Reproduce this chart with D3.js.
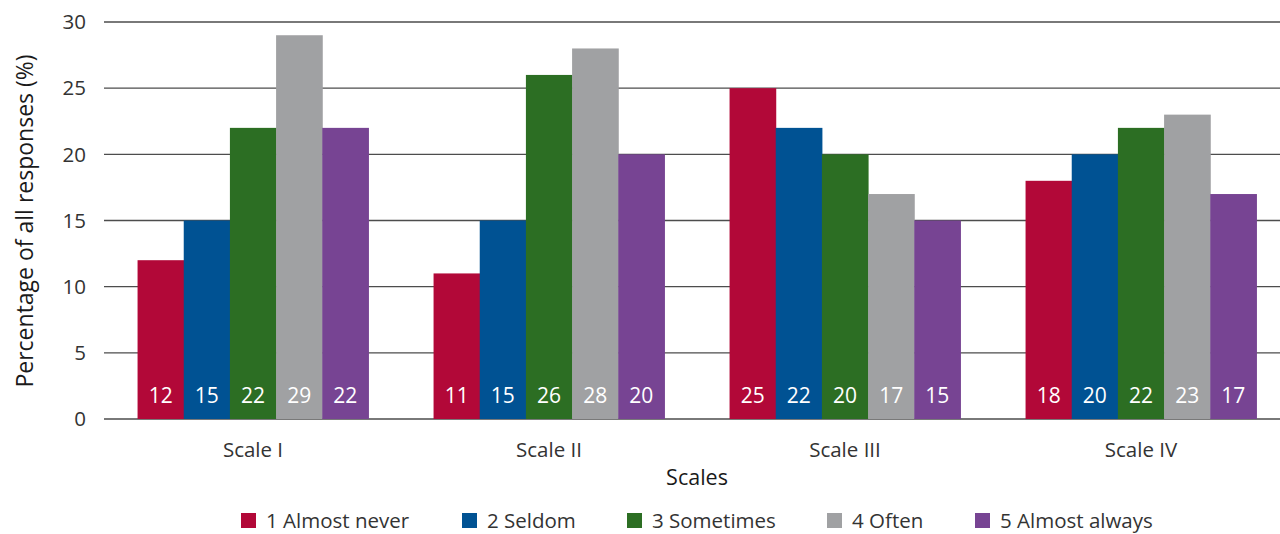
<!DOCTYPE html>
<meta charset="utf-8">
<style>
    body { margin: 0; background: #fff; }
    text { font-family: "Open Sans", "Noto Sans", sans-serif; }
</style>
<script src="https://d3js.org/d3.v7.min.js"></script>
<div id="chart"></div>
<script>
    // data
    var scales = ["Scale I", "Scale II", "Scale III", "Scale IV"];
    var answers = ["1 Almost never", "2 Seldom", "3 Sometimes", "4 Often", "5 Almost always"];
    var colors = ["#b20838", "#005293", "#2c6e23", "#a0a1a3", "#774493"];
    var almostNever = [12, 11, 25, 18];
    var seldom = [15, 15, 22, 20];
    var sometimes = [22, 26, 20, 22];
    var often = [29, 28, 17, 23];
    var almostAlways = [22, 20, 15, 17];
    var yTicks = [0, 5, 10, 15, 20, 25, 30];

    var series = [almostNever, seldom, sometimes, often, almostAlways];

    var width = 1280, height = 534;
    var svg = d3.select("#chart").append("svg")
        .attr("width", width)
        .attr("height", height);

    var x = d3.scaleBand()
        .domain(scales)
        .range([105, 1289])
        .paddingInner(0.22)
        .paddingOuter(0.11);

    var x1 = d3.scaleBand()
        .domain(d3.range(answers.length))
        .range([0, x.bandwidth()]);

    var y = d3.scaleLinear()
        .domain([0, 30])
        .range([419, 22]);

    // grid lines
    svg.append("g").selectAll("line")
        .data(yTicks)
        .enter().append("line")
        .attr("x1", 104)
        .attr("x2", 1280)
        .attr("y1", function(d) { return y(d) })
        .attr("y2", function(d) { return y(d) })
        .attr("stroke", "#4d4d4d")
        .attr("stroke-width", 1.3);

    svg.append("g").selectAll("text")
        .data(yTicks)
        .enter().append("text")
        .attr("x", 86)
        .attr("y", function(d) { return y(d) })
        .attr("dy", "0.35em")
        .attr("text-anchor", "end")
        .style("font-size", "20.5px")
        .style("fill", "#333")
        .text(function(d) { return d });

    // bars
    var groups = svg.append("g").selectAll("g")
        .data(scales)
        .enter().append("g")
        .attr("transform", function(d) { return "translate(" + x(d) + ",0)" });

    groups.selectAll("rect")
        .data(function(d, i) { return series.map(function(s, k) { return {k: k, v: s[i]} }) })
        .enter().append("rect")
        .attr("x", function(d) { return x1(d.k) })
        .attr("width", x1.bandwidth() + 0.5)
        .attr("y", function(d) { return y(d.v) })
        .attr("height", function(d) { return y(0) - y(d.v) })
        .attr("fill", function(d) { return colors[d.k] });

    groups.selectAll("text")
        .data(function(d, i) { return series.map(function(s, k) { return {k: k, v: s[i]} }) })
        .enter().append("text")
        .attr("x", function(d) { return x1(d.k) + x1.bandwidth() / 2 })
        .attr("y", 403)
        .attr("text-anchor", "middle")
        .style("font-size", "21px")
        .style("fill", "#fff")
        .text(function(d) { return d.v });

    // x axis labels
    svg.append("g").selectAll("text")
        .data(scales)
        .enter().append("text")
        .attr("x", function(d) { return x(d) + x.bandwidth() / 2 })
        .attr("y", 457)
        .attr("text-anchor", "middle")
        .style("font-size", "20.5px")
        .style("fill", "#333")
        .text(function(d) { return d });

    svg.append("text")
        .attr("x", 697)
        .attr("y", 485)
        .attr("text-anchor", "middle")
        .style("font-size", "21.5px")
        .style("fill", "#1a1a1a")
        .text("Scales");

    svg.append("text")
        .attr("transform", "translate(33,221) rotate(-90)")
        .attr("text-anchor", "middle")
        .style("font-size", "23px")
        .style("fill", "#1a1a1a")
        .text("Percentage of all responses (%)");

    // legend
    var legendX = [241, 462, 627, 827, 975];
    var legend = svg.append("g").selectAll("g")
        .data(answers)
        .enter().append("g")
        .attr("transform", function(d, i) { return "translate(" + legendX[i] + ",513)" });

    legend.append("rect")
        .attr("width", 15)
        .attr("height", 15)
        .attr("fill", function(d, i) { return colors[i] });

    legend.append("text")
        .attr("x", 25)
        .attr("y", 15)
        .style("font-size", "20.5px")
        .style("fill", "#333")
        .text(function(d) { return d });
</script>
